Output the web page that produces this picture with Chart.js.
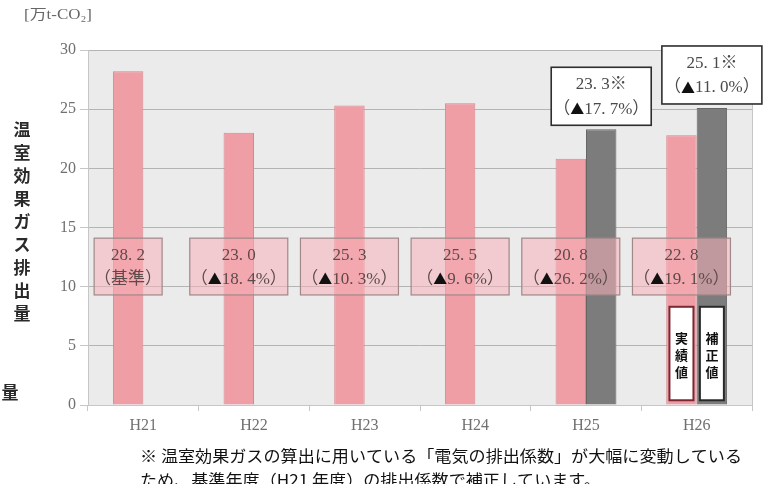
<!DOCTYPE html>
<html>
<head>
<meta charset="utf-8">
<script src="https://cdn.jsdelivr.net/npm/chart.js@4"></script>
<style>
  html, body { margin: 0; padding: 0; background: #fff; }
  #wrap { position: relative; width: 773px; height: 484px; }
</style>
</head>
<body>
<div id="wrap"><canvas id="chart" width="773" height="484"></canvas></div>
<script>
const years = ['H21', 'H22', 'H23', 'H24', 'H25', 'H26'];
const actual = [28.2, 23.0, 25.3, 25.5, 20.8, 22.8];
const corrected = [null, null, null, null, 23.3, 25.1];
const actualChange = ['（基準）', '（▲18. 4%）', '（▲10. 3%）', '（▲9. 6%）', '（▲26. 2%）', '（▲19. 1%）'];
const correctedChange = [null, null, null, null, '（▲17. 7%）', '（▲11. 0%）'];
const yTicks = [0, 5, 10, 15, 20, 25, 30];
const unitLabel = '[万t-CO₂]';
const axisTitle = '温室効果ガス排出量';
const tagActual = '実績値';
const tagCorrected = '補正値';
const footnote = [
    '※ 温室効果ガスの算出に用いている「電気の排出係数」が大幅に変動している',
    'ため、基準年度（H21 年度）の排出係数で補正しています。'
];

const serif = '"Liberation Serif", "DejaVu Serif", "Noto Sans CJK JP", serif';
const gothic = '"Noto Sans CJK JP", sans-serif';

const fmt = v => v.toFixed(1).replace('.', '. ');

// plot background and frame
const plotBg = {
    id: 'plotBg',
    beforeDraw(chart) {
        const { ctx, chartArea: a } = chart;
        ctx.save();
        ctx.fillStyle = '#ebebeb';
        ctx.fillRect(a.left, a.top, a.right - a.left, a.bottom - a.top);
        ctx.strokeStyle = '#c6c6c6';
        ctx.lineWidth = 1;
        ctx.strokeRect(a.left + 0.5, a.top + 0.5, a.right - a.left, a.bottom - a.top);
        ctx.restore();
    }
};

// text where the triangle is drawn black in a full-width face
function mixedText(ctx, str, cx, cy, color) {
    const parts = str.split(/(▲)/).filter(p => p);
    const fontOf = p => p === '▲' ? '14px ' + gothic : '17px ' + serif;
    let total = 0;
    parts.forEach(p => { ctx.font = fontOf(p); total += ctx.measureText(p).width; });
    let x = cx - total / 2;
    ctx.textAlign = 'left';
    parts.forEach(p => {
        ctx.font = fontOf(p);
        ctx.fillStyle = p === '▲' ? '#111' : color;
        ctx.fillText(p, x, cy);
        x += ctx.measureText(p).width;
    });
    return total;
}

function twoLineBox(ctx, cx, top, w, h, l1, l2, fill, stroke, color, lw) {
    ctx.fillStyle = fill;
    ctx.fillRect(cx - w / 2, top, w, h);
    ctx.strokeStyle = stroke;
    ctx.lineWidth = lw;
    ctx.strokeRect(cx - w / 2, top, w, h);
    ctx.textBaseline = 'middle';
    mixedText(ctx, l1, cx, top + h * 0.3, color);
    mixedText(ctx, l2, cx, top + h * 0.72, color);
}

// value boxes, tags and surrounding texts
const labels = {
    id: 'labels',
    afterDatasetsDraw(chart) {
        const { ctx } = chart;
        const y = chart.scales.y;
        const pink = chart.getDatasetMeta(0).data;
        const gray = chart.getDatasetMeta(1).data;
        ctx.save();

        const top = y.getPixelForValue(14.1);
        const bottom = y.getPixelForValue(9.3);
        pink.forEach((el, i) => {
            const w = i === 0 ? 68 : 98;
            twoLineBox(ctx, el.x, top, w, bottom - top, fmt(actual[i]), actualChange[i],
                'rgba(246, 176, 184, 0.55)', '#a08888', '#5e4a4a', 1.2);
        });

        gray.forEach((el, i) => {
            if (corrected[i] == null) return;
            const h = 58;
            const b = el.y - 4;
            twoLineBox(ctx, el.x, b - h, 100, h, fmt(corrected[i]) + '※', correctedChange[i],
                '#ffffff', '#2e2e2e', '#4a4a4a', 1.6);
        });

        // vertical tags inside the last pair of bars
        const last = years.length - 1;
        const tTop = y.getPixelForValue(8.3);
        const tBot = y.getPixelForValue(0.4);
        [[pink[last], tagActual, '#7a2832'], [gray[last], tagCorrected, '#2a2a2a']].forEach(([el, txt, border]) => {
            ctx.fillStyle = '#fff';
            ctx.fillRect(el.x - 12, tTop, 24, tBot - tTop);
            ctx.strokeStyle = border;
            ctx.lineWidth = 2;
            ctx.strokeRect(el.x - 12, tTop, 24, tBot - tTop);
            ctx.fillStyle = '#111';
            ctx.font = 'bold 13px ' + gothic;
            ctx.textAlign = 'center';
            ctx.textBaseline = 'middle';
            [...txt].forEach((c, k) => ctx.fillText(c, el.x, tTop + 31 + k * 17));
        });
        ctx.restore();
    },
    afterDraw(chart) {
        const { ctx } = chart;
        ctx.save();
        ctx.fillStyle = '#666';
        ctx.font = '14px ' + serif;
        ctx.textAlign = 'left';
        ctx.textBaseline = 'middle';
        const uw = ctx.measureText(unitLabel).width;
        ctx.save();
        ctx.translate(24, 15);
        ctx.scale(68 / uw, 1);
        ctx.fillText(unitLabel, 0, 0);
        ctx.restore();

        ctx.fillStyle = '#2a2a2a';
        ctx.font = 'bold 17px ' + gothic;
        ctx.textAlign = 'center';
        [...axisTitle].forEach((c, k) => ctx.fillText(c, 22, 130 + k * 22.9));
        ctx.fillText(axisTitle.slice(-1), 10, 393);

        ctx.fillStyle = '#111';
        ctx.font = '16px ' + gothic;
        ctx.textAlign = 'left';
        const w0 = ctx.measureText(footnote[0]).width;
        footnote.forEach((line, k) => {
            ctx.save();
            ctx.translate(140, 456 + k * 24);
            ctx.scale(602 / w0, 1);
            ctx.fillText(line, 0, 0);
            ctx.restore();
        });
        ctx.restore();
    }
};

new Chart(document.getElementById('chart').getContext('2d'), {
    type: 'bar',
    data: {
        labels: years,
        datasets: [{
            label: tagActual,
            data: actual,
            backgroundColor: '#ef9ea6',
            borderColor: '#d8868e',
            borderWidth: 1
        }, {
            label: tagCorrected,
            data: corrected,
            backgroundColor: '#7c7c7c',
            borderColor: '#666',
            borderWidth: 1
        }]
    },
    options: {
        responsive: false,
        animation: false,
        layout: { padding: { left: 0, top: 50, right: 21, bottom: 39 } },
        plugins: { legend: { display: false }, tooltip: { enabled: false } },
        datasets: { bar: { barPercentage: 1, categoryPercentage: 0.55, grouped: true } },
        scales: {
            x: {
                afterFit: s => { s.height = 40; },
                grid: { drawOnChartArea: false, offset: true, tickLength: 6, color: '#c6c6c6' },
                border: { color: '#c6c6c6' },
                ticks: { color: '#707070', font: { family: serif, size: 16 }, padding: 5 }
            },
            y: {
                min: 0,
                max: 30,
                afterFit: s => { s.width = 88; },
                afterBuildTicks: s => { s.ticks = yTicks.map(v => ({ value: v })); },
                grid: { color: '#b4b4b4', tickLength: 8, tickColor: '#c6c6c6' },
                border: { color: '#c6c6c6' },
                ticks: { color: '#707070', font: { family: serif, size: 16 }, padding: 4 }
            }
        }
    },
    plugins: [plotBg, labels]
});
</script>
</body>
</html>
